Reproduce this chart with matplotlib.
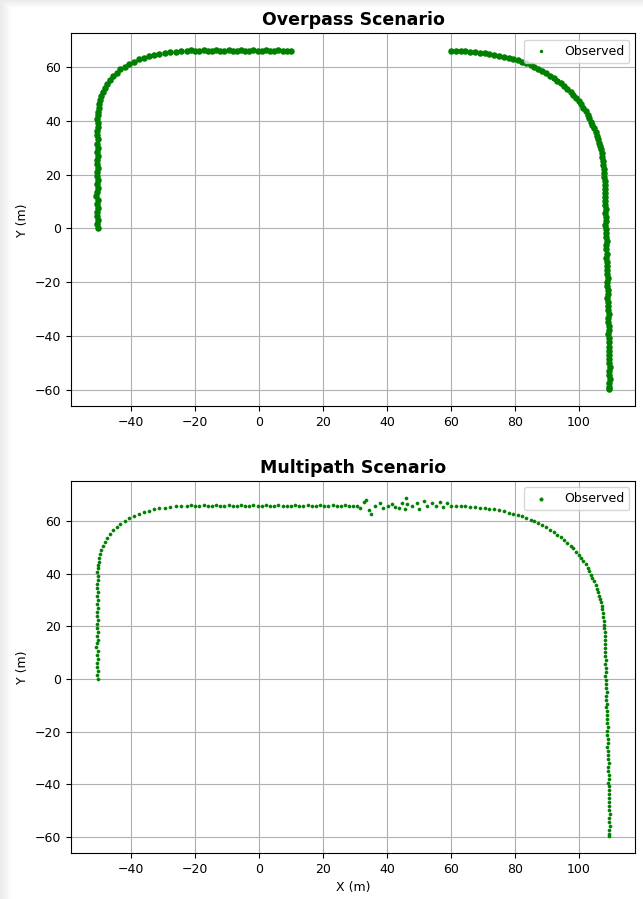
import numpy as np
import matplotlib.pyplot as plt

# track points (x, y in metres)
# left leg going north, then the bend onto the top road, up to x = 10
left_leg = [
    (-50.4, 0.0), (-50.6, 1.5), (-50.3, 3.0), (-50.7, 4.5), (-50.5, 6.0), (-50.2, 7.5),
    (-50.6, 9.0), (-50.4, 10.5), (-50.8, 12.0), (-50.5, 13.5), (-50.3, 15.0), (-50.6, 16.5),
    (-50.4, 18.0), (-50.7, 19.5), (-50.5, 21.0), (-50.3, 22.5), (-50.6, 24.0), (-50.5, 25.5),
    (-50.2, 27.0), (-50.7, 28.5), (-50.4, 30.0), (-50.6, 31.5), (-50.3, 33.0), (-50.5, 34.5),
    (-50.6, 36.0), (-50.4, 37.5), (-50.3, 39.0), (-50.5, 40.5), (-50.3, 42.0), (-50.2, 43.3),
]
left_bend = [
    (-50.1, 44.5), (-50.0, 46.0), (-49.7, 47.5), (-49.3, 49.0), (-48.8, 50.5), (-48.2, 52.0),
    (-47.5, 53.5), (-46.6, 55.0), (-45.6, 56.5), (-44.5, 57.8), (-43.3, 59.0), (-42.0, 60.0),
    (-40.6, 61.0), (-39.1, 61.9), (-37.6, 62.7), (-36.0, 63.3), (-34.4, 63.9), (-32.8, 64.4),
    (-31.1, 64.8), (-29.4, 65.1), (-27.7, 65.4), (-26.0, 65.6), (-24.3, 65.7),
]
top_west = [
    (-22.5, 65.8), (-21.2, 66.0), (-19.9, 65.8), (-18.6, 65.9), (-17.3, 66.1), (-16.0, 65.8),
    (-14.7, 65.9), (-13.4, 66.0), (-12.1, 65.8), (-10.8, 65.9), (-9.5, 66.1), (-8.2, 65.9),
    (-6.9, 65.8), (-5.6, 66.0), (-4.3, 65.9), (-3.0, 65.8), (-1.7, 66.0), (-0.4, 65.9),
    (0.9, 65.8), (2.2, 66.0), (3.5, 65.9), (4.8, 65.8), (6.1, 66.0), (7.4, 65.9),
    (8.7, 65.8), (10.0, 65.9),
]
# from x = 60 round the right bend and south to the end
right_bend = [
    (60.1, 65.9), (61.5, 65.9), (63.0, 65.8), (64.5, 65.7), (66.0, 65.5), (67.5, 65.3),
    (69.0, 65.1), (70.5, 64.9), (72.0, 64.7), (73.5, 64.4), (75.0, 64.1), (76.5, 63.7),
    (78.0, 63.2), (79.5, 62.8), (81.0, 62.3), (82.3, 61.8), (83.6, 61.2), (84.9, 60.5),
    (86.1, 59.9), (87.3, 59.2), (88.5, 58.4), (89.7, 57.6), (90.9, 56.7), (92.1, 55.7),
    (93.3, 54.8), (94.4, 53.8), (95.4, 52.8), (96.4, 51.7), (97.4, 50.7), (98.3, 49.6),
    (99.1, 48.4), (99.9, 47.2), (100.6, 46.0), (101.3, 44.8), (102.2, 43.5), (102.7, 42.2),
    (103.2, 40.9), (103.7, 39.6), (104.2, 38.3), (104.6, 37.1), (105.2, 35.7), (105.6, 34.3),
    (106.0, 33.0), (106.3, 31.7), (106.6, 30.5), (106.9, 29.3), (107.1, 27.9), (107.3, 26.5),
    (107.4, 25.0), (107.5, 23.6), (107.7, 22.2), (107.8, 20.7), (107.9, 19.2), (108.0, 17.7),
    (108.0, 16.2), (108.1, 14.7), (108.2, 13.2), (108.2, 11.7),
]
right_leg = [
    (108.3, 10.2), (108.2, 8.7), (108.4, 7.2), (108.3, 5.7), (108.5, 4.2), (108.4, 2.7),
    (108.3, 1.2), (108.6, -0.3), (108.5, -1.8), (108.4, -3.3), (108.7, -4.8), (108.5, -6.3),
    (108.6, -7.8), (108.8, -9.3), (108.6, -10.8), (108.7, -12.3), (108.9, -13.8), (108.7, -15.3),
    (108.8, -16.8), (109.0, -18.3), (108.8, -19.8), (108.9, -21.3), (109.1, -22.8), (109.0, -24.3),
    (108.9, -25.8), (109.2, -27.3), (109.1, -28.8), (109.0, -30.3), (109.3, -31.8), (109.2, -33.3),
    (109.1, -34.8), (109.3, -36.3), (109.4, -37.8), (109.2, -39.3), (109.4, -40.8), (109.3, -42.3),
    (109.5, -43.8), (109.4, -45.3), (109.3, -46.8), (109.5, -48.3), (109.4, -49.8), (109.6, -51.3),
    (109.5, -52.8), (109.4, -54.3), (109.6, -55.8), (109.5, -57.3), (109.5, -58.8), (109.5, -59.7),
]
# multipath only: the stretch under the overpass, scattered between x 31 and 59
top_middle = [
    (11.3, 66.0), (12.6, 65.8), (13.9, 65.9), (15.2, 66.0), (16.5, 65.8), (17.8, 65.9),
    (19.1, 66.1), (20.4, 65.9), (21.7, 65.8), (23.0, 66.0), (24.3, 65.9), (25.6, 65.8),
    (26.9, 66.0), (28.2, 65.9), (29.5, 65.8), (30.6, 65.6),
    (31.7, 65.0), (32.7, 67.2), (33.5, 67.9), (34.3, 64.1), (35.0, 62.8), (36.4, 65.6),
    (37.9, 66.7), (38.8, 65.0), (40.2, 65.6), (41.6, 66.3), (42.6, 65.4), (43.7, 65.0),
    (44.7, 66.9), (45.8, 64.6), (46.1, 68.8), (46.4, 66.3), (47.9, 65.6), (49.4, 66.7),
    (49.9, 64.6), (51.5, 67.6), (52.6, 65.9), (54.1, 66.9), (55.2, 65.9), (56.7, 67.2),
    (57.6, 65.5), (58.8, 66.7),
]

overpass = np.array(left_leg + left_bend + top_west + right_bend + right_leg)
multipath = np.array(left_leg + left_bend + top_west + top_middle + right_bend + right_leg)

fig = plt.figure(figsize=(6.43, 8.99), dpi=100)

# faint drop shadow along the left and top edges, like the notebook frame
bg = fig.add_axes([0, 0, 1, 1], zorder=-10)
bg.axis('off')
px = np.arange(643)
py = np.arange(899)
shade = np.minimum(np.clip(px / 12.0, 0, 1)[None, :], np.clip(py / 8.0, 0, 1)[:, None])
bg.imshow(0.92 + 0.08 * shade, cmap='gray', vmin=0, vmax=1, aspect='auto',
          extent=[0, 1, 0, 1], origin='upper', interpolation='nearest')

ax1 = fig.add_axes([0.110, 0.548, 0.878, 0.415])
ax2 = fig.add_axes([0.110, 0.051, 0.878, 0.414])

ax1.scatter(overpass[:, 0], overpass[:, 1], s=22, c='green', linewidths=0, label='Observed')
ax2.scatter(multipath[:, 0], multipath[:, 1], s=5, c='green', linewidths=0.4, label='Observed')

for ax, title in [(ax1, 'Overpass Scenario'), (ax2, 'Multipath Scenario')]:
    ax.set_title(title, fontsize=12.5, fontweight='bold')
    ax.set_ylabel('Y (m)', fontsize=9)
    ax.tick_params(labelsize=9)
    ax.grid(True)
    ax.set_axisbelow(True)
    leg = ax.legend(loc='upper right', fontsize=9)
    leg.legend_handles[0].set_sizes([6])

ax2.set_xlabel('X (m)', fontsize=9)

fig.savefig('out.png', dpi=100)
